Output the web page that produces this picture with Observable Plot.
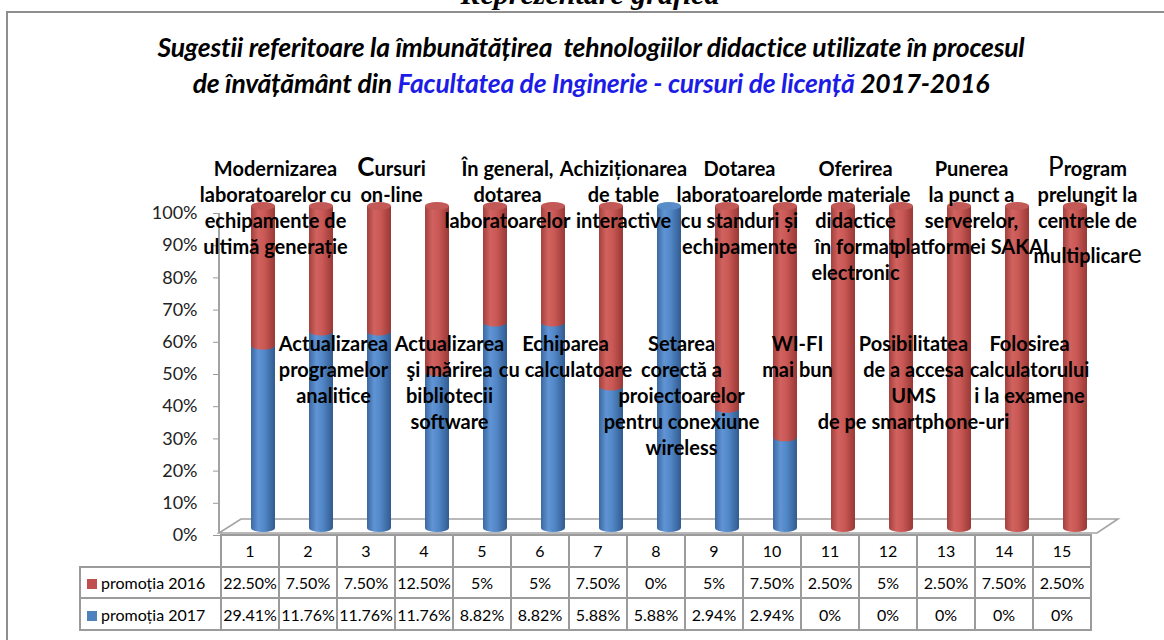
<!DOCTYPE html>
<html><head><meta charset="utf-8">
<script src="https://cdn.jsdelivr.net/npm/d3@7"></script>
<script src="https://cdn.jsdelivr.net/npm/@observablehq/plot@0.6"></script>
<style>
body{margin:0;background:#fff;width:1164px;height:640px;overflow:hidden;position:relative;font-family:Lato,sans-serif;}
#frame{position:absolute;left:6px;top:11px;width:1200px;height:700px;border:2px solid #8e8e8e;box-sizing:border-box;}
#top{position:absolute;left:0;width:1180px;top:-23px;text-align:center;font:italic bold 30px "Liberation Serif",serif;white-space:nowrap;}
#title{position:absolute;left:0;width:1182px;top:29px;text-align:center;font:italic bold 26.5px Lato,sans-serif;line-height:36px;white-space:nowrap;letter-spacing:-0.2px;}
#title .blue{color:#1c1ce6;}
#chart{position:absolute;left:0;top:0;}
table{position:absolute;border-collapse:collapse;table-layout:fixed;font:16px Lato,sans-serif;color:#000;}
td{border:2px solid #9b9b9b;text-align:center;padding:0;white-space:nowrap;overflow:visible;}
td.empty{border:none;}
td.leg{text-align:left;padding-left:6px;}
.sw{display:inline-block;width:10px;height:10px;margin-right:4px;vertical-align:0px;}
</style></head>
<body>
<div id="frame"></div>
<div id="top">Reprezentare grafică</div>
<div id="title">Sugestii referitoare la îmbunătățirea&nbsp; tehnologiilor didactice utilizate în procesul<br>de învățământ din <span class="blue">Facultatea de Inginerie - cursuri de licență</span> 2017-2016</div>
<div id="chart"></div>
<script>
// ---- data ----
const categories = ["1","2","3","4","5","6","7","8","9","10","11","12","13","14","15"];
const seriesNames = ["promoția 2016", "promoția 2017"];
const values2016 = [22.5, 7.5, 7.5, 12.5, 5, 5, 7.5, 0, 5, 7.5, 2.5, 5, 2.5, 7.5, 2.5];
const values2017 = [29.41, 11.76, 11.76, 11.76, 8.82, 8.82, 5.88, 5.88, 2.94, 2.94, 0, 0, 0, 0, 0];
const suggestions = [
  "Modernizarea\nlaboratoarelor cu\nechipamente de\nultimă generație",
  "Actualizarea\nprogramelor\nanalitice",
  "Cursuri\non-line",
  "Actualizarea\nşi mărirea\nbibliotecii\nsoftware",
  "În general,\ndotarea\nlaboratoarelor",
  "Echiparea\ncu calculatoare",
  "Achiziționarea\nde table\ninteractive",
  "Setarea\ncorectă a\nproiectoarelor\npentru conexiune\nwireless",
  "Dotarea\nlaboratoarelor\ncu standuri și\nechipamente",
  "WI-FI\nmai bun",
  "Oferirea\nde materiale\ndidactice\nîn format\nelectronic",
  "Posibilitatea\nde a accesa\nUMS\nde pe smartphone-uri",
  "Punerea\nla punct a\nserverelor,\nplatformei SAKAI",
  "Folosirea\ncalculatorului\ni la examene",
  "Program\nprelungit la\ncentrele de\nmultiplicare"
];
const yTicks = [0, 0.1, 0.2, 0.3, 0.4, 0.5, 0.6, 0.7, 0.8, 0.9, 1];
const seriesColors = ["#C0504D", "#4F81BD"];

// ---- derived tables ----
const rows = [];
categories.forEach((c, i) => rows.push({cat: c, series: seriesNames[1], value: values2017[i]}));
categories.forEach((c, i) => rows.push({cat: c, series: seriesNames[0], value: values2016[i]}));
const labelRows = categories.map((c, i) => ({cat: c, text: suggestions[i], idx: i}));
const topLabels = labelRows.filter(d => d.idx % 2 === 0);
const bottomLabels = labelRows.filter(d => d.idx % 2 === 1);
const fmtCell = v => (Number.isInteger(v) ? v : v.toFixed(2)) + "%";

const BARDX = 10, BARDY = -7;
const labelFont = {fontSize: 20, fontWeight: "bold", fontFamily: "Lato", fill: "#000", lineAnchor: "top", lineHeight: 1.3, dx: 22};

const plot = Plot.plot({
  width: 1164, height: 640,
  marginLeft: 220, marginRight: 67, marginTop: 213, marginBottom: 105,
  style: {fontFamily: "Lato", fontSize: "18px", color: "#222", background: "transparent", overflow: "visible"},
  x: {domain: categories, padding: 0, axis: null},
  y: {domain: [0, 1], ticks: yTicks, tickFormat: d3.format(".0%"), tickSize: 7, tickPadding: 16, label: null},
  color: {domain: seriesNames, range: ["url(#gRed)", "url(#gBlue)"]},
  marks: [
    Plot.barY(rows, Plot.stackY({x: "cat", y: "value", fill: "series", offset: "normalize", insetLeft: 17, insetRight: 17, dx: BARDX, dy: BARDY})),
    Plot.text(topLabels, {x: "cat", text: "text", frameAnchor: "top", dy: -56, ...labelFont}),
    Plot.text(bottomLabels, {x: "cat", text: "text", frameAnchor: "top", dy: 119, ...labelFont})
  ]
});
document.getElementById("chart").appendChild(plot);

// ---- 3D decorations via the plot's scales ----
const svg = d3.select(plot);
const xs = plot.scale("x"), ys = plot.scale("y");
const bw = xs.bandwidth;
const [x0, x1] = xs.range;
const defs = svg.insert("defs", ":first-child");
function grad(id, stops) {
  const g = defs.append("linearGradient").attr("id", id).attr("x1", 0).attr("x2", 1).attr("y1", 0).attr("y2", 0);
  stops.forEach(([o, c]) => g.append("stop").attr("offset", o).attr("stop-color", c));
}
grad("gRed", [[0, "#a3403d"], [0.3, "#d0625f"], [0.55, "#cb5956"], [1, "#983936"]]);
grad("gBlue", [[0, "#3b68a1"], [0.3, "#6094d4"], [0.55, "#5388c8"], [1, "#315b90"]]);

svg.selectAll('g[aria-label="y-axis tick"], g[aria-label="y-axis"] line').attr("stroke", "#9a9a9a");

const barG = svg.select('g[aria-label="bar"]').node();
const back = svg.insert("g", () => barG);
const y0 = ys.apply(0), y1 = ys.apply(1);
const depthX = 21, depthY = -14;
back.append("path")
  .attr("d", `M${x0 - 1},${y0 - 2}L${x1},${y0 - 2}L${x1 + depthX},${y0 - 2 + depthY}L${x0 + depthX},${y0 - 2 + depthY}Z`)
  .attr("fill", "#fff").attr("stroke", "#a3a3a3").attr("stroke-width", 1.6);
back.append("line").attr("x1", x0 - 1).attr("x2", x0 - 1).attr("y1", y1).attr("y2", y0 - 2)
  .attr("stroke", "#a3a3a3").attr("stroke-width", 2);

const rx = (bw - 34) / 2, ry = 4;
const front = svg.insert("g", () => barG.nextSibling);
categories.forEach((c, i) => {
  const cx = xs.apply(c) + bw / 2 + BARDX;
  const total = values2016[i] + values2017[i];
  const share = values2017[i] / total;
  const bottomFill = values2017[i] > 0 ? "url(#gBlue)" : "url(#gRed)";
  back.append("ellipse").attr("cx", cx).attr("cy", y0 + BARDY).attr("rx", rx).attr("ry", ry).attr("fill", bottomFill);
  if (share > 0 && share < 1) {
    front.append("ellipse").attr("cx", cx).attr("cy", ys.apply(share) + BARDY).attr("rx", rx).attr("ry", ry).attr("fill", "url(#gRed)");
  }
  front.append("ellipse").attr("cx", cx).attr("cy", y1 + BARDY).attr("rx", rx).attr("ry", ry)
    .attr("fill", values2016[i] > 0 ? "#c25956" : "#5a8cc9");
});

// special glyph styling, as in the original
svg.selectAll("tspan").each(function () {
  const t = d3.select(this), s = t.text();
  if (s === "Cursuri") { t.text(""); t.append("tspan").attr("font-size", 26).text("C"); t.append("tspan").text("ursuri"); }
  if (s === "Program") { t.text(""); t.append("tspan").attr("font-size", 26).attr("font-weight", "normal").text("P"); t.append("tspan").text("rogram"); }
  if (s === "multiplicare") {
    const d = t.attr("dy");
    if (d && d.endsWith("em")) t.attr("dy", (parseFloat(d) + 0.45) + "em");
    t.text(""); t.append("tspan").text("multiplicar"); t.append("tspan").attr("font-size", 26).attr("font-weight", "normal").text("e");
  }
});

// ---- data table aligned to the x scale ----
const legW = 141, rowH = 31.7;
const table = document.createElement("table");
table.style.left = (x0 - legW) + "px";
table.style.top = (y0 - 1) + "px";
table.style.width = (legW + bw * categories.length) + "px";
const cg = document.createElement("colgroup");
[legW, ...categories.map(() => bw)].forEach(w => { const col = document.createElement("col"); col.style.width = w + "px"; cg.appendChild(col); });
table.appendChild(cg);
function addRow(first, cells) {
  const tr = document.createElement("tr");
  tr.style.height = rowH + "px";
  tr.appendChild(first);
  cells.forEach(v => { const td = document.createElement("td"); td.textContent = v; tr.appendChild(td); });
  table.appendChild(tr);
}
const empty = document.createElement("td"); empty.className = "empty";
addRow(empty, categories);
[[0, values2016], [1, values2017]].forEach(([k, vals]) => {
  const td = document.createElement("td"); td.className = "leg";
  const sw = document.createElement("span"); sw.className = "sw"; sw.style.background = seriesColors[k];
  td.appendChild(sw); td.appendChild(document.createTextNode(seriesNames[k]));
  addRow(td, vals.map(fmtCell));
});
document.body.appendChild(table);
</script>
</body></html>
